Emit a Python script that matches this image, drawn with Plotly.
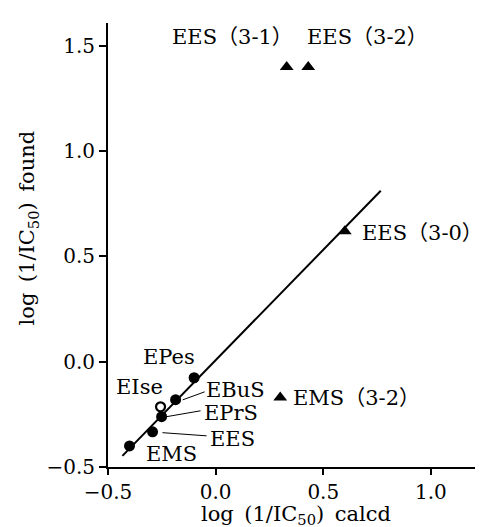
import plotly.graph_objects as go

# Data
circle_names = ["EPes", "EBuS", "EPrS", "EES", "EMS"]
circle_x = [-0.10, -0.186, -0.251, -0.293, -0.40]
circle_y = [-0.076, -0.18, -0.261, -0.333, -0.40]

open_names = ["EIse"]
open_x = [-0.256]
open_y = [-0.214]

tri_names = ["EES（3-1）", "EES（3-2）", "EES（3-0）", "EMS（3-2）"]
tri_x = [0.33, 0.43, 0.60, 0.30]
tri_y = [1.40, 1.40, 0.62, -0.17]

fit_x = [-0.433, 0.767]
fit_y = [-0.447, 0.812]

# label placement (data coordinates, left anchored)
label_text = ["EES（3-1）", "EES（3-2）", "EES（3-0）", "EMS（3-2）", "EPes", "EIse",
              "EBuS", "EPrS", "EES", "EMS"]
label_x = [-0.214, 0.414, 0.670, 0.349, -0.349, -0.474, -0.056, -0.065, -0.037, -0.335]
label_y = [1.544, 1.544, 0.613, -0.171, 0.024, -0.119, -0.133, -0.242, -0.366, -0.437]

leader_x0 = [-0.153, -0.228, -0.247]
leader_y0 = [-0.181, -0.261, -0.337]
leader_x1 = [-0.051, -0.070, -0.042]
leader_y1 = [-0.143, -0.233, -0.352]

x_title = "log\u2002(1/IC<sub>50</sub>)\u2002calcd"
y_title = "log\u2002(1/IC<sub>50</sub>)\u2002found"

FONT = "DejaVu Serif, Noto Sans CJK JP"

fig = go.Figure()
fig.add_trace(go.Scatter(x=fit_x, y=fit_y, mode="lines",
                         line=dict(color="black", width=2), showlegend=False))
for x0, y0, x1, y1 in zip(leader_x0, leader_y0, leader_x1, leader_y1):
    fig.add_trace(go.Scatter(x=[x0, x1], y=[y0, y1], mode="lines",
                             line=dict(color="black", width=1), showlegend=False))
fig.add_trace(go.Scatter(x=circle_x, y=circle_y, mode="markers", text=circle_names,
                         marker=dict(symbol="circle", size=11, color="black"),
                         showlegend=False))
fig.add_trace(go.Scatter(x=open_x, y=open_y, mode="markers", text=open_names,
                         marker=dict(symbol="circle-open", size=9, color="black",
                                     line=dict(width=2.2)),
                         showlegend=False))
fig.add_trace(go.Scatter(x=tri_x, y=tri_y, mode="markers", text=tri_names,
                         marker=dict(symbol="triangle-up", size=12, color="black"),
                         showlegend=False))

for t, x, y in zip(label_text, label_x, label_y):
    fig.add_annotation(x=x, y=y, text=t, showarrow=False, xanchor="left",
                       yanchor="middle", font=dict(family=FONT, size=21, color="black"))

# axis titles
fig.add_annotation(x=0.491, y=-0.108, xref="paper", yref="paper", text=x_title,
                   showarrow=False, xanchor="center", yanchor="middle",
                   font=dict(family="DejaVu Serif", size=21, color="black"))
fig.add_annotation(x=-0.208, y=0.538, xref="paper", yref="paper", text=y_title,
                   showarrow=False, xanchor="center", yanchor="middle", textangle=-90,
                   font=dict(family="DejaVu Serif", size=21, color="black"))

fig.update_layout(
    width=483, height=527,
    margin=dict(l=100, r=0, t=15, b=68),
    paper_bgcolor="white", plot_bgcolor="white",
    font=dict(family=FONT, size=20, color="black"),
)
fig.update_xaxes(range=[-0.5, 1.279], tickvals=[-0.5, 0, 0.5, 1.0],
                 ticktext=["−0.5", "0.0", "0.5", "1.0"],
                 showgrid=False, zeroline=False, showline=True, linecolor="black",
                 linewidth=2, ticks="outside", ticklen=6, tickwidth=2, tickcolor="black",
                 tickfont=dict(family="DejaVu Serif", size=20))
fig.update_yaxes(range=[-0.5, 1.609], tickvals=[-0.5, 0, 0.5, 1.0, 1.5],
                 ticktext=["−0.5", "0.0", "0.5", "1.0", "1.5"],
                 showgrid=False, zeroline=False, showline=True, linecolor="black",
                 linewidth=2, ticks="outside", ticklen=7, tickwidth=2, tickcolor="black",
                 tickfont=dict(family="DejaVu Serif", size=20))

fig.write_html("out.html")
